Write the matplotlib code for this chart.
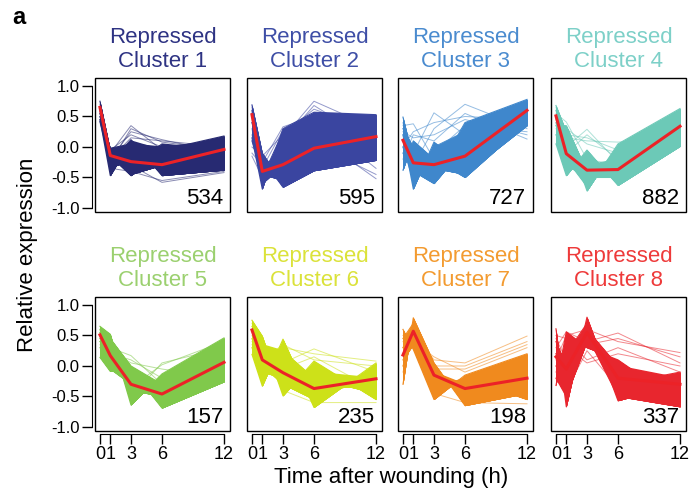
import numpy as np
import matplotlib
matplotlib.use('Agg')
import matplotlib.pyplot as plt
from matplotlib.patches import Rectangle

plt.rcParams['font.family'] = ['Liberation Sans', 'DejaVu Sans']

# time points (h) and tick labels
times = [0, 1, 3, 6, 12]
tick_labels = ['0', '1', '3', '6', '12']

cluster_names = ['Repressed\nCluster %d' % i for i in range(1, 9)]
cluster_sizes = [534, 595, 727, 882, 157, 235, 198, 337]
line_colors = ['#272a72', '#3a45a0', '#3f87cc', '#6cc9b7',
               '#80c94b', '#cde119', '#f08a1e', '#e8262e']
title_colors = ['#2e3383', '#3e4ea6', '#4a8bcf', '#7dd0c8',
                '#9bd06f', '#dbe23a', '#f39b30', '#ee3a3a']
mean_color = '#ec2227'

# mean profile of each cluster (red line)
mean_expr = [
    [0.65, -0.14, -0.24, -0.29, -0.04],
    [0.53, -0.40, -0.29, -0.02, 0.17],
    [0.11, -0.26, -0.29, -0.15, 0.60],
    [0.51, -0.11, -0.38, -0.37, 0.34],
    [0.51, 0.17, -0.30, -0.46, 0.06],
    [0.59, 0.10, -0.11, -0.37, -0.21],
    [0.18, 0.57, -0.15, -0.37, -0.20],
    [0.15, -0.05, 0.55, -0.20, -0.30],
]

# genes spanning the dense body of each cluster
core_profiles = [
    [[0.75, -0.05, -0.45, -0.30, -0.10], [0.45, -0.47, 0.10, -0.05, 0.18],
     [0.60, -0.25, 0.12, -0.47, -0.38], [0.50, -0.10, -0.30, 0.05, -0.05],
     [0.65, -0.35, -0.20, -0.20, -0.35], [0.42, -0.15, -0.47, -0.10, 0.05],
     [0.55, -0.02, 0.05, 0.00, 0.10]],
    [[0.69, -0.10, -0.60, 0.30, 0.10], [0.15, -0.69, 0.30, 0.57, 0.53],
     [0.40, -0.20, -0.66, -0.39, -0.22], [0.55, -0.50, 0.25, -0.30, 0.00],
     [0.60, -0.60, -0.30, 0.55, 0.45], [0.10, -0.45, -0.55, 0.10, -0.20]],
    [[0.49, -0.20, -0.50, 0.40, 0.78], [-0.38, 0.10, -0.20, -0.50, 0.40],
     [0.20, -0.69, 0.08, -0.30, 0.55], [-0.10, -0.40, -0.60, 0.00, 0.72],
     [0.30, 0.00, -0.35, -0.45, 0.35], [0.00, -0.55, 0.00, 0.25, 0.65]],
    [[0.68, 0.25, -0.72, 0.05, 0.63], [0.05, -0.47, -0.05, -0.63, 0.01],
     [0.40, -0.30, -0.50, -0.50, 0.30], [0.60, 0.05, -0.30, -0.20, 0.50],
     [0.20, -0.20, -0.65, 0.00, 0.20], [0.50, -0.40, -0.10, -0.55, 0.10],
     [0.35, 0.35, -0.40, -0.35, 0.40]],
    [[0.65, 0.52, -0.64, -0.13, 0.46], [0.14, -0.09, -0.05, -0.69, -0.26],
     [0.45, 0.30, -0.40, -0.50, 0.20], [0.55, 0.05, -0.20, -0.60, -0.10],
     [0.30, 0.40, -0.55, -0.25, 0.35], [0.60, -0.05, -0.30, -0.40, 0.00],
     [0.50, 0.45, 0.00, -0.30, 0.10], [0.40, 0.35, -0.10, -0.45, 0.25]],
    [[0.75, 0.49, -0.49, 0.08, -0.55], [0.19, -0.33, 0.44, -0.68, 0.05],
     [0.60, 0.20, 0.10, -0.40, -0.30], [0.45, 0.00, -0.30, -0.55, -0.10],
     [0.65, 0.35, 0.25, -0.20, -0.45], [0.30, -0.10, -0.20, -0.10, -0.20]],
    [[0.60, 0.27, -0.55, -0.15, 0.20], [-0.30, 0.79, 0.05, -0.65, -0.45],
     [0.30, 0.60, -0.20, -0.40, -0.10], [0.00, 0.45, -0.35, -0.20, -0.55],
     [0.45, 0.70, 0.00, -0.55, 0.10], [0.10, 0.35, -0.10, -0.30, -0.30]],
    [[0.61, -0.67, 0.80, -0.57, -0.30], [-0.32, 0.56, 0.30, 0.10, -0.60],
     [0.20, 0.20, 0.70, -0.30, -0.10], [0.00, -0.30, 0.50, -0.50, -0.67],
     [0.40, 0.00, 0.60, 0.00, -0.20], [-0.20, -0.50, 0.40, -0.20, -0.45]],
]

# sparse genes drawn as single thin lines
outlier_profiles = [
    [[0.55, -0.10, 0.35, -0.05, -0.20], [0.60, -0.20, 0.25, 0.12, -0.10],
     [0.50, -0.30, -0.30, -0.58, -0.42], [0.70, -0.20, 0.15, 0.10, 0.00],
     [0.45, -0.35, -0.40, -0.55, -0.40], [0.65, -0.05, 0.20, 0.00, 0.10],
     [0.40, -0.25, 0.30, 0.08, -0.05]],
    [[0.40, -0.45, 0.15, 0.75, 0.30], [0.20, -0.55, 0.10, 0.68, 0.05],
     [-0.10, -0.30, -0.10, 0.20, -0.52], [-0.15, -0.50, -0.40, 0.05, -0.45],
     [0.50, -0.35, 0.28, 0.45, -0.35], [0.30, -0.62, -0.20, 0.40, 0.50],
     [0.00, -0.15, 0.20, 0.62, 0.25], [0.65, -0.25, 0.33, 0.50, -0.10]],
    [[0.35, 0.38, -0.20, 0.10, 0.60], [0.10, -0.10, 0.56, 0.20, 0.50],
     [0.20, -0.30, 0.30, 0.70, 0.30], [-0.20, 0.20, 0.10, 0.55, 0.13],
     [0.40, -0.45, -0.10, 0.35, 0.25], [0.00, 0.25, 0.40, 0.50, 0.45],
     [0.25, 0.15, 0.20, 0.45, 0.20]],
    [[0.55, 0.41, -0.20, -0.30, 0.40], [0.45, 0.00, 0.29, -0.25, 0.25],
     [0.35, -0.10, 0.20, -0.20, 0.05], [0.65, 0.15, 0.10, 0.08, 0.15],
     [0.30, 0.30, 0.05, -0.10, 0.35], [0.50, 0.20, 0.15, -0.05, 0.05]],
    [[0.50, 0.30, 0.17, -0.30, 0.10], [0.40, 0.20, 0.10, -0.20, -0.15],
     [0.55, 0.45, -0.50, 0.05, 0.30], [0.35, 0.10, -0.35, 0.02, 0.40],
     [0.45, 0.25, 0.05, -0.05, -0.20]],
    [[0.55, 0.30, 0.05, 0.28, -0.10], [0.50, 0.15, 0.30, 0.20, 0.08],
     [0.40, 0.40, -0.05, 0.15, -0.40], [0.70, 0.25, -0.40, -0.60, -0.60],
     [0.35, 0.10, 0.35, 0.10, 0.00]],
    [[0.40, 0.55, 0.10, 0.05, 0.49], [0.20, 0.65, -0.05, -0.05, 0.35],
     [-0.10, 0.50, -0.45, -0.60, -0.62], [0.50, 0.40, 0.15, -0.10, 0.30],
     [0.30, 0.50, 0.00, 0.00, 0.40]],
    [[0.30, 0.56, 0.40, 0.54, 0.05], [0.10, 0.50, 0.60, 0.40, 0.22],
     [0.50, 0.45, 0.10, 0.30, -0.10], [-0.10, 0.30, 0.05, 0.20, 0.00],
     [0.20, -0.40, 0.25, -0.35, -0.55], [0.45, 0.10, 0.35, 0.45, 0.15]],
]

W, H = 692, 498
fig = plt.figure(figsize=(W / 100, H / 100), dpi=100)

lefts = [95, 247, 398, 551]
tops = [78, 297]
pw, ph = 135, 134

for k in range(8):
    r, c = divmod(k, 4)
    ax = fig.add_axes([lefts[c] / W, 1 - (tops[r] + ph) / H, pw / W, ph / H])
    col = line_colors[k]

    # dense body: union of the areas between every pair of core genes
    core = core_profiles[k]
    for i in range(len(core)):
        for j in range(i + 1, len(core)):
            ax.fill_between(times, core[i], core[j], color=col, lw=0)
    for prof in core:
        ax.plot(times, prof, color=col, lw=0.8)
    for prof in outlier_profiles[k]:
        ax.plot(times, prof, color=col, lw=0.7, alpha=0.55)

    ax.plot(times, mean_expr[k], color=mean_color, lw=2.2, zorder=5)

    ax.set_xlim(-0.48, 12.58)
    ax.set_ylim(-1.066, 1.131)

    # R-style axes: box around plot + detached axis lines
    for s in ['top', 'right']:
        ax.spines[s].set_visible(False)
    ax.spines['left'].set_position(('outward', 2))
    ax.spines['left'].set_bounds(-1, 1)
    ax.spines['bottom'].set_position(('outward', 2))
    ax.spines['bottom'].set_bounds(0, 12)
    ax.add_patch(Rectangle((0, 0), 1, 1, transform=ax.transAxes, fill=False,
                           lw=1.0, ec='black', clip_on=False, zorder=6))

    ax.set_yticks([-1.0, -0.5, 0.0, 0.5, 1.0])
    ax.set_yticklabels(['-1.0', '-0.5', '0.0', '0.5', '1.0'])
    ax.tick_params(axis='y', length=7, width=1, labelsize=12, pad=2)
    ax.set_xticks(times)
    ax.set_xticklabels(tick_labels)
    ax.tick_params(axis='x', length=7, width=1, labelsize=13, pad=2)
    if c != 0:
        ax.spines['left'].set_visible(False)
        ax.tick_params(axis='y', left=False, labelleft=False)
    if r == 0:
        ax.spines['bottom'].set_visible(False)
        ax.tick_params(axis='x', bottom=False, labelbottom=False)

    ax.set_title(cluster_names[k], color=title_colors[k], fontsize=16,
                 linespacing=1.2, pad=8)
    ax.text(0.95, 0.02, str(cluster_sizes[k]), transform=ax.transAxes,
            ha='right', va='bottom', fontsize=16, zorder=7)

fig.text(0.04, 0.488, 'Relative expression', rotation=90, ha='center',
         va='center', fontsize=16)
fig.text(391 / W, 1 - 478 / H, 'Time after wounding (h)', ha='center',
         va='center', fontsize=16)
fig.text(12 / W, 1 - 18 / H, 'a', fontsize=17, fontweight='bold',
         ha='left', va='center')

fig.savefig('out.png', dpi=100)
